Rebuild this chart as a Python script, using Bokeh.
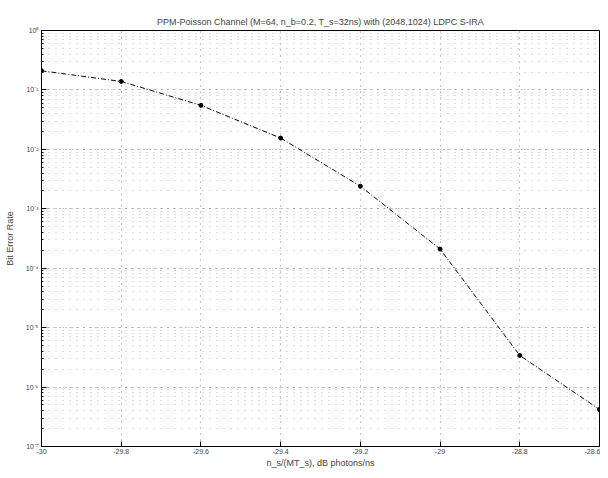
import numpy as np
from bokeh.plotting import figure
from bokeh.models import FixedTicker, CustomJSTickFormatter, LogTicker, Range1d
from bokeh.embed import file_html
from bokeh.resources import INLINE

# data
snr_db = [-30.0, -29.8, -29.6, -29.4, -29.2, -29.0, -28.8, -28.6]
ber = [0.21, 0.139, 0.055, 0.0155, 2.4e-3, 2.1e-4, 3.4e-6, 4.2e-7]
x_ticks = [-30.0, -29.8, -29.6, -29.4, -29.2, -29.0, -28.8, -28.6]

FONT = "Liberation Sans"

p = figure(width=600, height=470, y_axis_type="log",
           x_range=Range1d(-30.0, -28.6), y_range=Range1d(1e-7, 1.0),
           output_backend="svg", toolbar_location=None,
           min_border_left=41, min_border_right=1, min_border_top=30,
           min_border_bottom=22)

p.title.text = "PPM-Poisson Channel (M=64, n_b=0.2, T_s=32ns) with (2048,1024) LDPC S-IRA"
p.title.align = "center"
p.title.vertical_align = "top"
p.title.text_font = FONT
p.title.text_font_size = "9px"
p.title.text_font_style = "normal"
p.title.text_color = "#444444"
p.title.standoff = 4

p.outline_line_color = "black"
p.outline_line_width = 1

xfmt = CustomJSTickFormatter(code="return String(Math.round(tick*10)/10);")
yfmt = CustomJSTickFormatter(code="""
const sup = {'-':'\u207b','0':'\u2070','1':'\u00b9','2':'\u00b2','3':'\u00b3','4':'\u2074',
             '5':'\u2075','6':'\u2076','7':'\u2077','8':'\u2078','9':'\u2079'};
const e = Math.round(Math.log10(tick));
return '10' + String(e).split('').map(c => sup[c]).join('');
""")

xa = p.xaxis[0]
xa.ticker = FixedTicker(ticks=x_ticks, minor_ticks=[])
xa.formatter = xfmt
xa.axis_label = "n_s/(MT_s), dB photons/ns"
ya = p.yaxis[0]
ya.ticker = LogTicker(desired_num_ticks=8, num_minor_ticks=10)
ya.formatter = yfmt
ya.axis_label = "Bit Error Rate"

for ax in (xa, ya):
    ax.major_tick_in = 5
    ax.major_tick_out = 0
    ax.minor_tick_in = 2
    ax.minor_tick_out = 0
    ax.major_label_text_font = FONT
    ax.major_label_text_font_size = "7px"
    ax.major_label_standoff = 3
    ax.axis_label_text_font = FONT
    ax.axis_label_text_font_size = "9px"
    ax.axis_label_text_font_style = "normal"
    ax.axis_label_standoff = 3
    ax.axis_line_color = "black"
xa.major_label_standoff = 2
xa.axis_label_standoff = 1
ya.axis_label_standoff = 8

# dotted grid
p.xgrid.ticker = FixedTicker(ticks=x_ticks)
p.xgrid.grid_line_color = "#888888"
p.xgrid.grid_line_dash = "1 5"
p.ygrid.grid_line_color = "#888888"
p.ygrid.grid_line_dash = "1 5"
p.ygrid.minor_grid_line_color = "#bbbbbb"
p.ygrid.minor_grid_line_dash = "1 6"

p.line(snr_db, ber, line_color="black", line_width=1, line_dash="5 2 1 2")
p.scatter(snr_db, ber, size=4, color="black")

open("out.html", "w").write(file_html(p, INLINE))
